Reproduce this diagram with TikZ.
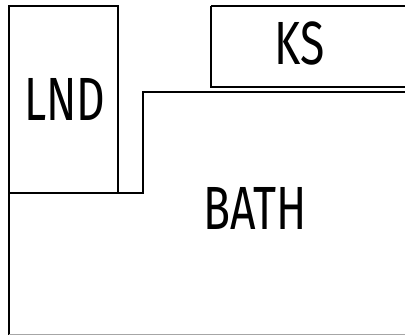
\documentclass[tikz,border=0pt]{standalone}
\usepackage{fontspec}
\newfontfamily\roomfont[FakeStretch=0.73]{Fira Sans}
\usepackage{tikz}
\usetikzlibrary{calc}

\begin{document}
\begin{tikzpicture}[x=1pt,y=-1pt,line width=1.5pt]
                                      \useasboundingbox (0,0) rectangle (405,336);
                                      \tikzset{room/.style={font=\roomfont\fontsize{61}{61}\selectfont,inner sep=0pt}}
                                      \draw (9,6) rectangle (118,193);
                                      \draw (211,6) -- (410,6);
                                      \draw (211,6) -- (211,87) -- (410,87);
                                      \draw (118,193) -- (143,193) -- (143,92) -- (410,92);
                                      \draw (9,193) -- (9,335);
                                      \draw[color=black!35,line width=1pt] (9,335) -- (410,335);
                                      \node[room](lnd)at(65,99){LND};
                                      \node[room](ks)at(300,43.5){KS};
                                      \node[room](bath)at(255.5,208){BATH};
                                  \end{tikzpicture}
\end{document}
